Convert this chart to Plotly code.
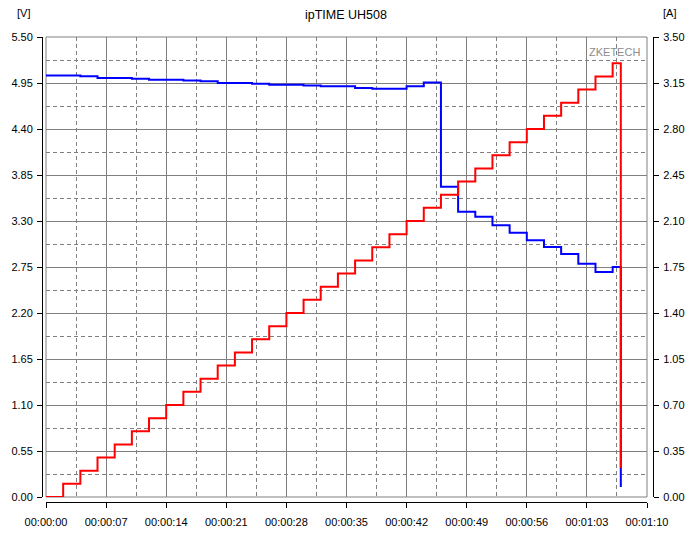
import plotly.graph_objects as go

# ---- data ----
time_s = [0, 2, 4, 6, 8, 10, 12, 14, 16, 18, 20, 22, 24, 26, 28, 30, 32, 34,
          36, 38, 40, 42, 44, 46, 48, 50, 52, 54, 56, 58, 60, 62, 64, 66, 66.95]
voltage_v = [5.04, 5.04, 5.03, 5.01, 5.01, 5.00, 4.99, 4.99, 4.98, 4.97, 4.95, 4.95,
             4.94, 4.93, 4.93, 4.92, 4.91, 4.91, 4.89, 4.88, 4.88, 4.91, 4.955,
             3.71, 3.41, 3.35, 3.25, 3.16, 3.07, 2.99, 2.905, 2.79, 2.69, 2.75, 0.12]
current_a = [0.0, 0.1, 0.2, 0.3, 0.4, 0.5, 0.6, 0.7, 0.8, 0.9, 1.0, 1.1, 1.2, 1.3,
             1.4, 1.5, 1.6, 1.7, 1.8, 1.9, 2.0, 2.1, 2.2, 2.3, 2.4, 2.5, 2.6, 2.7,
             2.8, 2.9, 3.0, 3.1, 3.2, 3.3, 0.22]

x_tick_vals = [0, 7, 14, 21, 28, 35, 42, 49, 56, 63, 70]
x_tick_text = ["00:00:00", "00:00:07", "00:00:14", "00:00:21", "00:00:28",
               "00:00:35", "00:00:42", "00:00:49", "00:00:56", "00:01:03", "00:01:10"]
v_ticks = [0.00, 0.55, 1.10, 1.65, 2.20, 2.75, 3.30, 3.85, 4.40, 4.95, 5.50]
a_ticks = [0.00, 0.35, 0.70, 1.05, 1.40, 1.75, 2.10, 2.45, 2.80, 3.15, 3.50]

title_text = "ipTIME UH508"

# ---- layout geometry (window pixels; page body has an 8px margin) ----
OFF = 8
W, H = 693 - 2 * OFF, 535 - 2 * OFF
ML, MR, MT, MB = 27, 27, 22, 17
PW, PH = W - ML - MR, H - MT - MB
plot_left, plot_right, plot_top, plot_bottom = 46, 647, 37, 497
left_axis_x, right_axis_x, bottom_axis_y = 42, 653, 502

def fx(px):
    return (px - OFF - ML) / PW

def fy(py):
    return (H - MB - (py - OFF)) / PH

FONT = "Liberation Sans, Arial, sans-serif"
GRID = "#808080"
DASH = "4px,3px"

fig = go.Figure()
fig.add_trace(go.Scatter(x=time_s, y=voltage_v, mode="lines", line_shape="hv",
                         line=dict(color="#0000FF", width=2), yaxis="y",
                         showlegend=False, hoverinfo="skip"))
fig.add_trace(go.Scatter(x=time_s, y=current_a, mode="lines", line_shape="hv",
                         line=dict(color="#FF0000", width=2), yaxis="y2",
                         showlegend=False, hoverinfo="skip"))

fig.update_layout(
    width=W, height=H,
    margin=dict(l=ML, r=MR, t=MT, b=MB, pad=0, autoexpand=False),
    paper_bgcolor="white", plot_bgcolor="white",
    font=dict(family=FONT, size=11, color="black"),
    xaxis=dict(
        domain=[fx(plot_left), fx(plot_right)],
        anchor="free", position=fy(bottom_axis_y), automargin=False,
        range=[0, 70], tickmode="array", tickvals=x_tick_vals, ticktext=x_tick_text,
        showline=True, linecolor="black", linewidth=1,
        ticks="outside", ticklen=5, tickcolor="black", tickwidth=1,
        showgrid=True, gridcolor=GRID, gridwidth=1,
        minor=dict(dtick=3.5, tick0=0, showgrid=True, gridcolor=GRID, griddash=DASH,
                   gridwidth=1, ticks=""),
        zeroline=False, fixedrange=True,
        tickfont=dict(size=11), ticklabelstandoff=5,
    ),
    yaxis=dict(
        domain=[fy(plot_bottom), fy(plot_top)],
        anchor="free", position=fx(left_axis_x), automargin=False,
        range=[0, 5.5], tickmode="array", tickvals=v_ticks, tickformat=".2f",
        showline=True, linecolor="black", linewidth=1,
        ticks="outside", ticklen=5, tickcolor="black", tickwidth=1,
        showgrid=True, gridcolor=GRID, gridwidth=1,
        minor=dict(dtick=0.275, tick0=0, showgrid=True, gridcolor=GRID, griddash=DASH,
                   gridwidth=1, ticks=""),
        zeroline=False, fixedrange=True,
        tickfont=dict(size=11), ticklabelstandoff=2,
    ),
    yaxis2=dict(
        overlaying="y", side="right",
        anchor="free", position=fx(right_axis_x), automargin=False,
        range=[0, 3.5], tickmode="array", tickvals=a_ticks, tickformat=".2f",
        showline=True, linecolor="black", linewidth=1,
        ticks="outside", ticklen=5, tickcolor="black", tickwidth=1,
        showgrid=False, zeroline=False, fixedrange=True,
        tickfont=dict(size=11), ticklabelstandoff=2,
    ),
    shapes=[dict(type="rect", xref="x domain", yref="y domain", x0=0, x1=1, y0=0, y1=1,
                 line=dict(color=GRID, width=1), layer="below")],
    annotations=[
        dict(text=title_text, xref="paper", yref="paper", x=fx(346), y=fy(15),
             showarrow=False, xanchor="center", yanchor="middle",
             font=dict(size=12.5, family=FONT, color="black")),
        dict(text="[V]", xref="paper", yref="paper", x=fx(23), y=fy(13),
             showarrow=False, xanchor="center", yanchor="middle",
             font=dict(size=11, family=FONT, color="black")),
        dict(text="[A]", xref="paper", yref="paper", x=fx(669), y=fy(13),
             showarrow=False, xanchor="center", yanchor="middle",
             font=dict(size=11, family=FONT, color="black")),
        dict(text="ZKETECH", xref="paper", yref="paper", x=fx(642), y=fy(52),
             showarrow=False, xanchor="right", yanchor="middle",
             font=dict(size=11, family=FONT, color="#8c8c8c")),
    ],
)

fig.write_html("out.html")
